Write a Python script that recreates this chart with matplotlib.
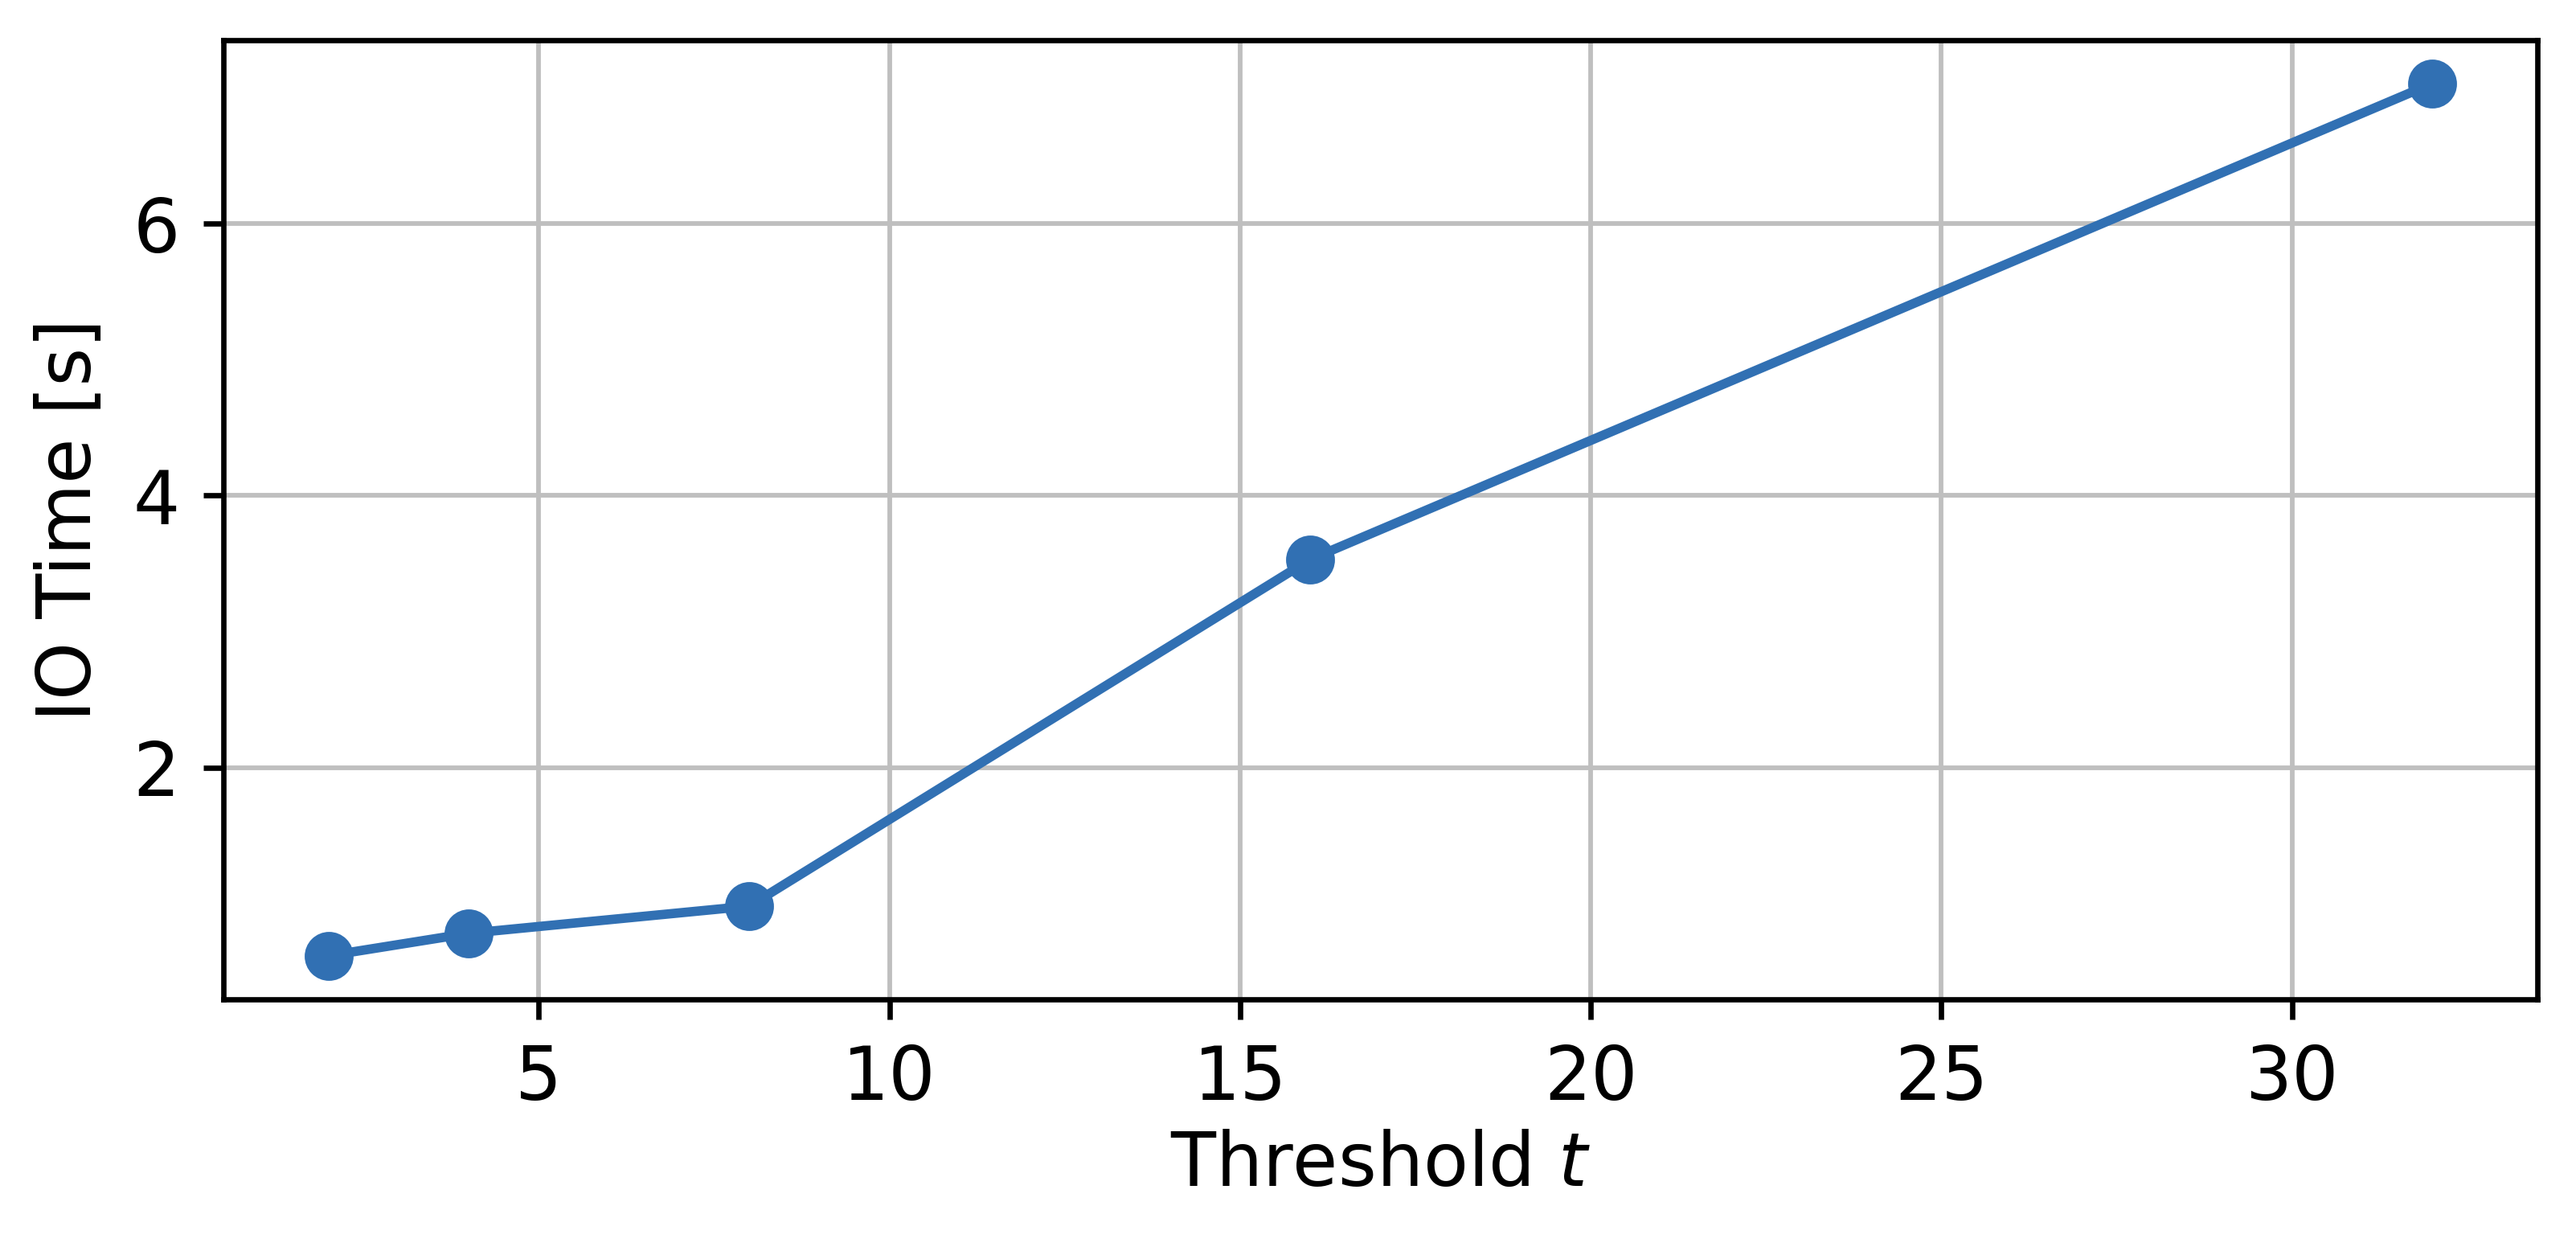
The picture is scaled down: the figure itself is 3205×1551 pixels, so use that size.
import matplotlib
matplotlib.use("Agg")
import matplotlib.pyplot as plt

thresholds = [2, 4, 8, 16, 32]
io_time = [0.615, 0.78, 0.98, 3.53, 7.03]

plt.rcParams['font.family'] = ['DejaVu Sans']
fig = plt.figure(figsize=(3205/600, 1551/600), dpi=600)
ax = fig.add_axes([0.0867, 0.1986, 0.985-0.0867, 0.968-0.1986])
ax.plot(thresholds, io_time, marker='o', color='#3170b3', linewidth=1.4, markersize=6.3, zorder=3)
ax.grid(True, color='#bfbfbf', linewidth=0.7)
ax.set_axisbelow(True)
ax.set_xlabel('Threshold $t$', fontsize=11, labelpad=2)
ax.set_ylabel('IO Time [s]', fontsize=11)
ax.tick_params(labelsize=11, length=3)
ax.set_yticks([2, 4, 6])
fig.savefig('out.png', dpi=600)
